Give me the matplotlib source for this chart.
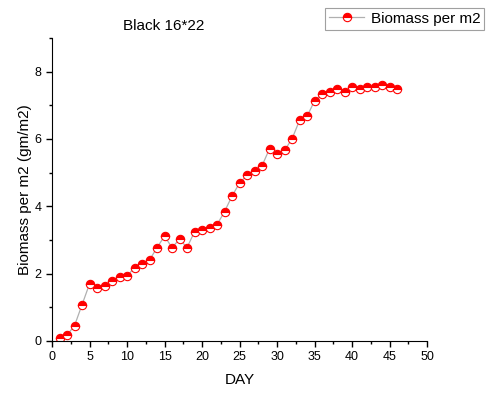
import numpy as np
import matplotlib.pyplot as plt

plt.rcParams['font.family'] = ['Liberation Sans', 'DejaVu Sans']

# biomass readings per day
days = list(range(1, 47))
biomass = [0.07, 0.17, 0.45, 1.07, 1.69, 1.57, 1.63, 1.78, 1.90, 1.93,
           2.17, 2.28, 2.40, 2.77, 3.11, 2.77, 3.02, 2.77, 3.24, 3.29,
           3.34, 3.45, 3.84, 4.30, 4.69, 4.92, 5.04, 5.20, 5.71, 5.54,
           5.66, 6.00, 6.55, 6.67, 7.13, 7.35, 7.40, 7.47, 7.40, 7.53,
           7.47, 7.53, 7.53, 7.59, 7.53, 7.47]

fig = plt.figure(figsize=(4.94, 4.0), dpi=100)
ax = fig.add_axes([0.1053, 0.148, 0.7591, 0.757])

line, = ax.plot(days, biomass, color='#b0b0b0', lw=0.9,
                marker='o', markersize=6, fillstyle='top',
                markerfacecolor='red', markerfacecoloralt='white',
                markeredgecolor='red', markeredgewidth=0.8,
                label='Biomass per m2')

ax.set_xlim(0, 50)
ax.set_ylim(0, 9)
ax.set_xticks(np.arange(0, 51, 5))
ax.set_xticks(np.arange(0, 51, 2.5), minor=True)
ax.set_yticks([0, 2, 4, 6, 8])
ax.set_yticks(np.arange(0, 9.1, 1), minor=True)
ax.spines['top'].set_visible(False)
ax.spines['right'].set_visible(False)
ax.tick_params(which='major', direction='out', length=4, width=1, labelsize=9)
ax.tick_params(which='minor', direction='out', length=2.5, width=1)

ax.set_xlabel('DAY', fontsize=11, labelpad=7)
ax.set_ylabel('Biomass per m2 (gm/m2)', fontsize=11, labelpad=2)

fig.text(164 / 494, 1 - 26 / 400, 'Black 16*22', fontsize=11,
         ha='center', va='center')

leg = fig.legend(handles=[line], loc='upper right',
                 bbox_to_anchor=(484 / 494, 1 - 8 / 400),
                 fontsize=11, fancybox=False, framealpha=1,
                 edgecolor='#a0a0a0', handlelength=2.3,
                 borderpad=0.25, handletextpad=0.4, borderaxespad=0)
leg.get_frame().set_linewidth(0.8)

fig.savefig('out.png', dpi=100)
